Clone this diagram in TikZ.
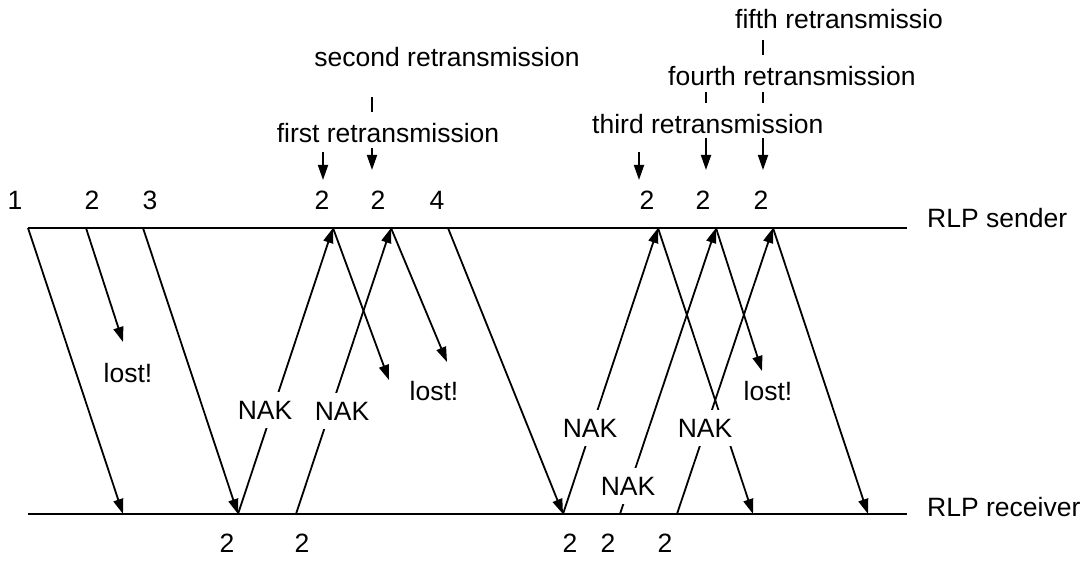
\documentclass[tikz,border=0pt]{standalone}
\usepackage{fontspec}
\setmainfont{Liberation Sans}
\usetikzlibrary{arrows.meta}
\begin{document}
\begin{tikzpicture}[x=1pt,y=-1pt,
  lbl/.style={inner sep=0pt, font=\fontsize{26.5}{30}\selectfont},
  nak/.style={lbl, fill=white, inner xsep=2pt, inner ysep=9pt},
  msg/.style={line width=1.8pt, -{Triangle[length=15pt,width=10pt]}},
  axisline/.style={line width=2pt},
  tickline/.style={line width=1.8pt}]
\useasboundingbox (0,0) rectangle (1085,561);

% time axes of sender and receiver
\coordinate (sL) at (28,228);  \coordinate (sR) at (907,228);
\coordinate (rL) at (28,514);  \coordinate (rR) at (907,514);
\draw[axisline] (sL) -- (sR);
\draw[axisline] (rL) -- (rR);
\node[lbl, anchor=west] (sender)   at (927,218) {RLP sender};
\node[lbl, anchor=west] (receiver) at (927,507) {RLP receiver};

% event points on the sender axis
\coordinate (s1) at (28,228);
\coordinate (s2) at (86,228);
\coordinate (s3) at (143,228);
\coordinate (s4) at (333,228);
\coordinate (s5) at (391,228);
\coordinate (s6) at (448,228);
\coordinate (s7) at (658,228);
\coordinate (s8) at (716,228);
\coordinate (s9) at (773,228);

% event points on the receiver axis
\coordinate (r1) at (123,514);
\coordinate (r2) at (238,514);
\coordinate (r3) at (296,514);
\coordinate (r4) at (563,514);
\coordinate (r5) at (620,514);
\coordinate (r6) at (677,514);
\coordinate (r7) at (753,514);
\coordinate (r8) at (868,514);

% end points of lost frames
\coordinate (l1) at (123,342);
\coordinate (l2) at (389,380);
\coordinate (l3) at (447,362);
\coordinate (l4) at (762,371);

% data frames
\draw[msg] (s1) -- (r1);
\draw[msg] (s2) -- (l1);
\draw[msg] (s3) -- (r2);
\draw[msg] (s4) -- (l2);
\draw[msg] (s5) -- (l3);
\draw[msg] (s6) -- (r4);
\draw[msg] (s7) -- (r7);
\draw[msg] (s8) -- (l4);
\draw[msg] (s9) -- (r8);

% negative acknowledgements
\draw[msg] (r2) -- (s4);
\draw[msg] (r3) -- (s5);
\draw[msg] (r4) -- (s7);
\draw[msg] (r5) -- (s8);
\draw[msg] (r6) -- (s9);

\node[nak] (nak1) at (265,410) {NAK};
\node[nak] (nak2) at (342,411) {NAK};
\node[nak] (nak3) at (590,428) {NAK};
\node[nak] (nak4) at (705,428) {NAK};
\node[nak] (nak5) at (628,486) {NAK};

\node[lbl] (lost1) at (128,373) {lost!};
\node[lbl] (lost2) at (434,391) {lost!};
\node[lbl] (lost3) at (768,391) {lost!};

% frame numbers at the sender
\node[lbl] (n1) at (15,200) {1};
\node[lbl] (n2) at (92,200) {2};
\node[lbl] (n3) at (150,200) {3};
\node[lbl] (n4) at (322,200) {2};
\node[lbl] (n5) at (378,200) {2};
\node[lbl] (n6) at (437,200) {4};
\node[lbl] (n7) at (647,200) {2};
\node[lbl] (n8) at (703,200) {2};
\node[lbl] (n9) at (761,200) {2};

% frame numbers at the receiver
\node[lbl] (m1) at (227,543) {2};
\node[lbl] (m2) at (302,543) {2};
\node[lbl] (m3) at (570,543) {2};
\node[lbl] (m4) at (608,543) {2};
\node[lbl] (m5) at (665,543) {2};

% retransmission annotations
\node[lbl] (ann2) at (447,57) {second retransmission};
\node[lbl] (ann1) at (388,133) {first retransmission};
\node[lbl, anchor=west] (ann5) at (735,19) {fifth retransmissio};
\node[lbl, anchor=west] (ann4) at (668,76) {fourth retransmission};
\node[lbl, anchor=west] (ann3) at (592,124) {third retransmission};

\coordinate (a1t) at (323,152); \coordinate (a1b) at (323,180);
\coordinate (a2t) at (372,148); \coordinate (a2b) at (372,170);
\coordinate (a3t) at (639,152); \coordinate (a3b) at (639,180);
\coordinate (a4t) at (706,138); \coordinate (a4b) at (706,170);
\coordinate (a5t) at (763,138); \coordinate (a5b) at (763,170);
\draw[msg] (a1t) -- (a1b);
\draw[msg] (a2t) -- (a2b);
\draw[msg] (a3t) -- (a3b);
\draw[msg] (a4t) -- (a4b);
\draw[msg] (a5t) -- (a5b);

\coordinate (k2t) at (372,97);  \coordinate (k2b) at (372,112);
\coordinate (k4t) at (706,92);  \coordinate (k4b) at (706,103);
\coordinate (k5t) at (763,92);  \coordinate (k5b) at (763,103);
\coordinate (k6t) at (763,40);  \coordinate (k6b) at (763,55);
\draw[tickline] (k2t) -- (k2b);
\draw[tickline] (k4t) -- (k4b);
\draw[tickline] (k5t) -- (k5b);
\draw[tickline] (k6t) -- (k6b);
\end{tikzpicture}
\end{document}
